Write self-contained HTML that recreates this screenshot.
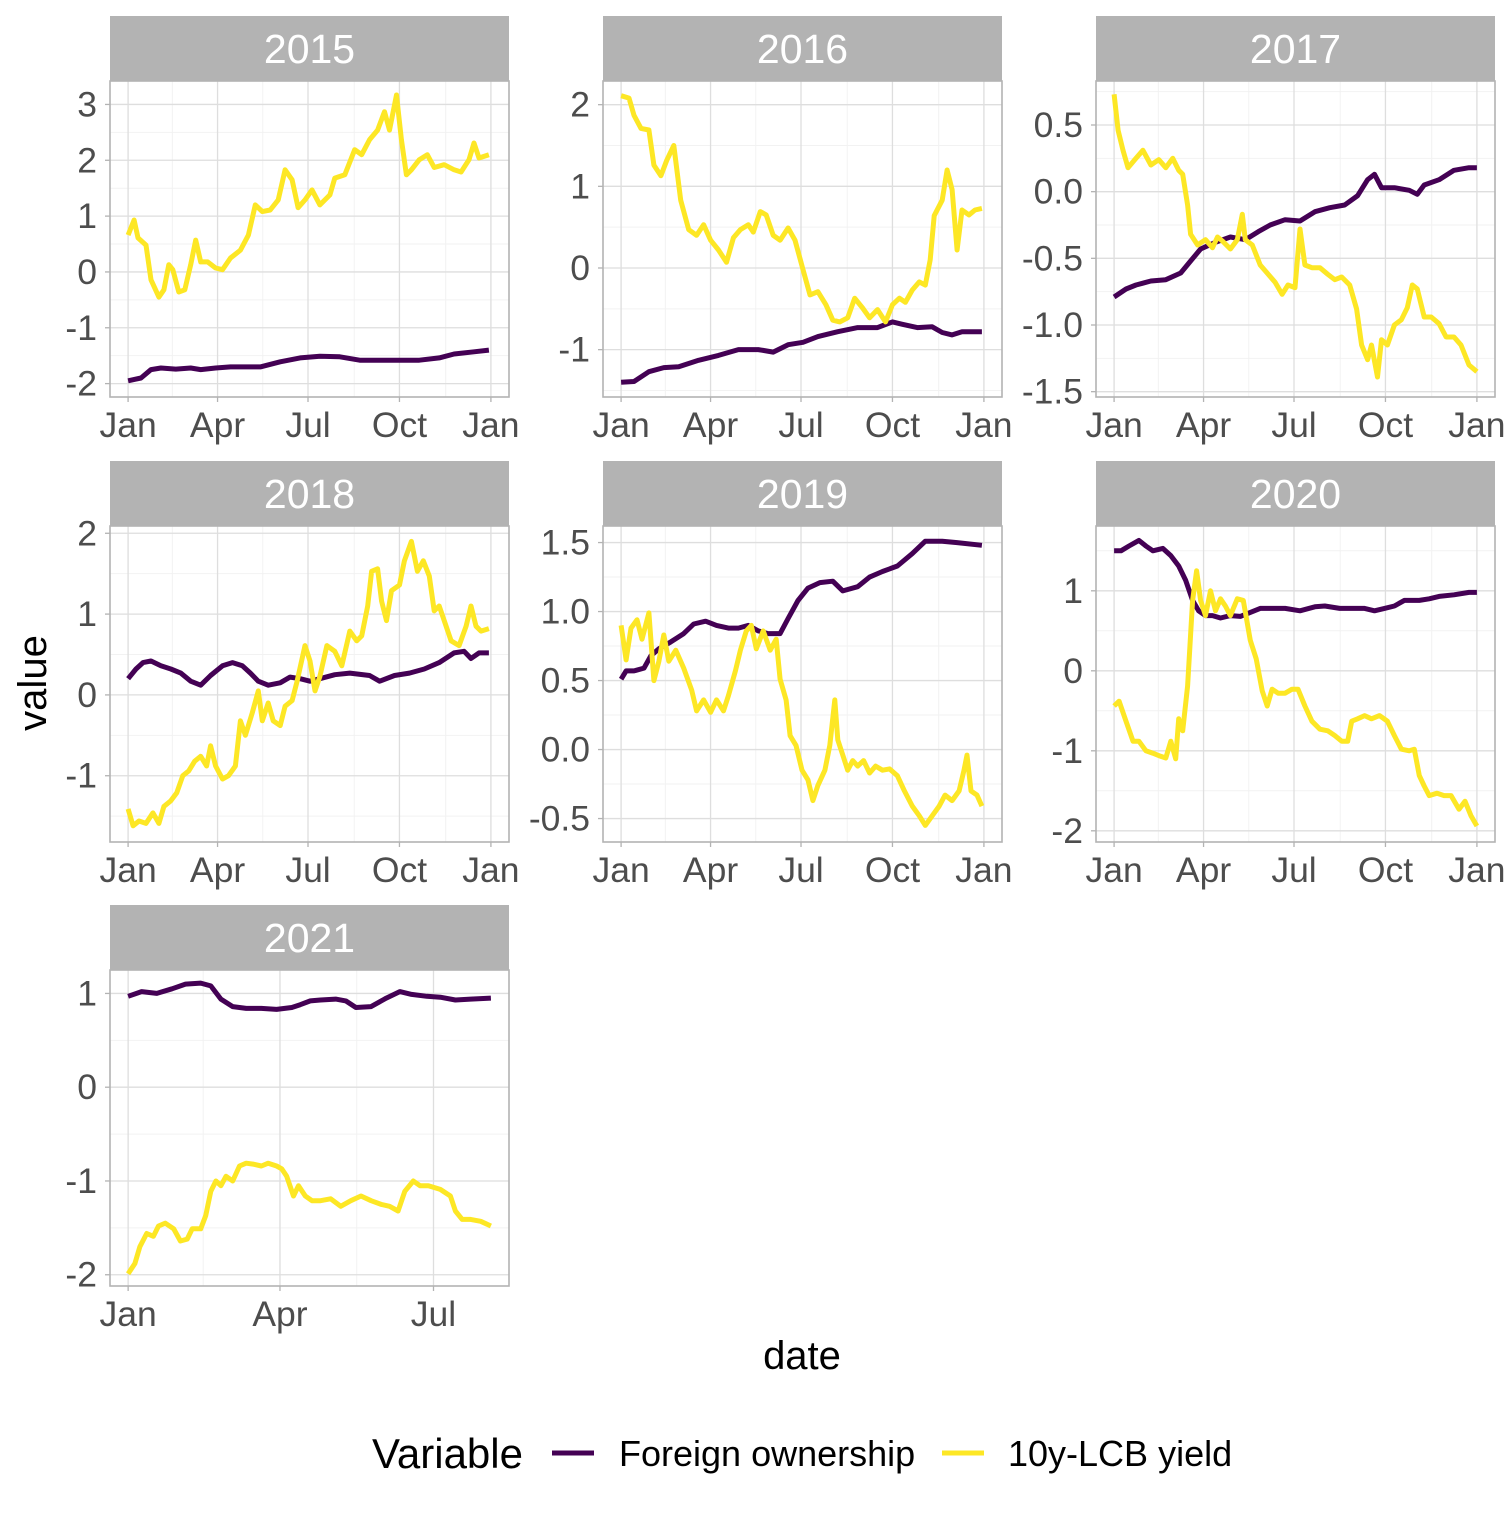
<!DOCTYPE html>
<html><head><meta charset="utf-8">
<style>
html,body{margin:0;padding:0;background:#fff;}
svg text{font-family:"Liberation Sans",sans-serif;}
</style></head>
<body>
<svg id="chart" width="1512" height="1512" viewBox="0 0 1512 1512" xmlns="http://www.w3.org/2000/svg">
<g id="panels"></g>
<text x="802" y="1369" font-size="40" text-anchor="middle" fill="#000">date</text>
<text transform="translate(46,683) rotate(-90)" font-size="40" text-anchor="middle" fill="#000">value</text>
<g>
<text x="372" y="1468" font-size="42" fill="#000">Variable</text>
<line x1="552" y1="1453" x2="594" y2="1453" stroke="#440154" stroke-width="5"/>
<text x="619" y="1466" font-size="36" fill="#000">Foreign ownership</text>
<line x1="942" y1="1453" x2="984" y2="1453" stroke="#FDE725" stroke-width="5"/>
<text x="1008" y="1466" font-size="36" fill="#000">10y-LCB yield</text>
</g>
</svg>
<script>
const fo2015_d=[0,13,23,33,48,63,73,88,103,133,153,173,193,213,233,263,293,313,328,348,363];
const fo2015_v=[-1.95,-1.9,-1.75,-1.72,-1.74,-1.72,-1.75,-1.72,-1.7,-1.7,-1.61,-1.54,-1.51,-1.52,-1.58,-1.58,-1.58,-1.54,-1.47,-1.43,-1.4];
const yl2015_d=[0,6,10,18,23,31,36,41,45,51,57,63,68,73,80,88,95,103,113,121,128,135,143,151,158,165,171,178,185,193,203,208,218,228,235,243,251,258,263,270,275,280,285,293,301,308,318,328,335,343,348,353,363];
const yl2015_v=[0.66,0.93,0.61,0.48,-0.14,-0.45,-0.32,0.13,0.04,-0.36,-0.32,0.13,0.57,0.18,0.18,0.07,0.04,0.25,0.39,0.66,1.2,1.08,1.11,1.29,1.83,1.65,1.15,1.29,1.47,1.2,1.38,1.68,1.74,2.19,2.1,2.37,2.54,2.87,2.54,3.17,2.37,1.74,1.83,2.01,2.1,1.87,1.92,1.83,1.79,2.01,2.31,2.04,2.1];

const fo2016_d=[0,13,28,43,58,78,98,118,138,153,168,183,198,218,238,258,273,283,298,313,323,333,343,363];
const fo2016_v=[-1.4,-1.39,-1.27,-1.22,-1.21,-1.13,-1.07,-1.0,-1.0,-1.03,-0.94,-0.91,-0.84,-0.78,-0.73,-0.73,-0.66,-0.69,-0.73,-0.72,-0.79,-0.82,-0.78,-0.78];
const yl2016_d=[0,8,13,20,28,33,40,46,53,60,68,76,83,90,98,106,113,120,128,133,140,146,153,160,168,175,183,190,198,206,213,220,228,235,243,250,258,266,273,280,286,293,300,306,311,315,323,328,333,338,343,350,356,363];
const yl2016_v=[2.11,2.08,1.87,1.71,1.69,1.26,1.13,1.32,1.5,0.83,0.47,0.4,0.53,0.34,0.22,0.07,0.37,0.47,0.53,0.44,0.69,0.65,0.4,0.34,0.49,0.34,-0.02,-0.33,-0.29,-0.45,-0.64,-0.66,-0.61,-0.37,-0.49,-0.61,-0.51,-0.66,-0.45,-0.37,-0.42,-0.27,-0.17,-0.21,0.1,0.64,0.83,1.2,0.96,0.22,0.71,0.65,0.71,0.73];

const fo2017_d=[0,12,22,37,52,67,77,87,102,117,132,145,157,172,187,202,217,232,245,255,262,269,282,297,305,312,327,342,357,365];
const fo2017_v=[-0.79,-0.73,-0.7,-0.67,-0.66,-0.61,-0.52,-0.43,-0.38,-0.34,-0.36,-0.3,-0.25,-0.21,-0.22,-0.15,-0.12,-0.1,-0.03,0.09,0.13,0.03,0.03,0.01,-0.02,0.05,0.09,0.16,0.18,0.18];
const yl2017_d=[0,4,9,14,22,29,37,45,52,59,65,69,74,77,84,92,99,104,109,117,124,129,132,139,147,155,162,169,175,182,187,192,199,207,215,222,229,237,244,249,255,259,265,269,275,282,289,295,300,305,312,319,327,334,342,349,357,365];
const yl2017_v=[0.73,0.46,0.31,0.18,0.25,0.31,0.2,0.24,0.18,0.25,0.16,0.13,-0.1,-0.32,-0.4,-0.36,-0.42,-0.34,-0.37,-0.43,-0.36,-0.17,-0.36,-0.4,-0.55,-0.62,-0.68,-0.77,-0.7,-0.72,-0.28,-0.55,-0.57,-0.57,-0.62,-0.66,-0.64,-0.7,-0.88,-1.15,-1.26,-1.15,-1.39,-1.11,-1.15,-1.0,-0.96,-0.87,-0.7,-0.73,-0.94,-0.94,-0.99,-1.09,-1.09,-1.15,-1.3,-1.35];

const fo2018_d=[0,8,15,23,33,43,53,63,73,83,95,105,115,123,131,141,153,163,173,183,193,208,223,243,253,268,283,298,313,328,338,345,353,363];
const fo2018_v=[0.2,0.32,0.4,0.42,0.36,0.32,0.27,0.17,0.12,0.24,0.36,0.4,0.36,0.27,0.17,0.12,0.15,0.22,0.2,0.17,0.2,0.25,0.27,0.24,0.17,0.24,0.27,0.32,0.4,0.52,0.54,0.45,0.52,0.52];
const yl2018_d=[0,5,11,18,25,31,36,43,49,55,61,67,73,79,83,88,95,101,108,113,118,125,131,135,141,146,153,158,165,170,178,183,188,193,200,208,215,223,230,235,241,245,251,255,260,265,273,278,285,291,297,303,308,313,318,325,333,340,345,350,355,363];
const yl2018_v=[-1.41,-1.62,-1.56,-1.59,-1.46,-1.59,-1.38,-1.31,-1.21,-1.0,-0.94,-0.82,-0.76,-0.88,-0.63,-0.88,-1.04,-1.0,-0.88,-0.32,-0.5,-0.22,0.05,-0.32,-0.1,-0.32,-0.38,-0.14,-0.07,0.17,0.61,0.42,0.05,0.23,0.61,0.54,0.36,0.79,0.67,0.73,1.1,1.53,1.56,1.16,0.92,1.29,1.36,1.66,1.9,1.53,1.66,1.47,1.04,1.1,0.92,0.67,0.61,0.85,1.1,0.85,0.79,0.82];

const fo2019_d=[0,5,13,23,30,38,50,63,73,85,96,108,118,128,138,148,160,168,178,188,200,213,223,238,250,263,278,293,306,323,338,363];
const fo2019_v=[0.51,0.57,0.57,0.59,0.68,0.73,0.78,0.84,0.91,0.93,0.9,0.88,0.88,0.9,0.86,0.84,0.84,0.95,1.08,1.17,1.21,1.22,1.15,1.18,1.25,1.29,1.33,1.42,1.51,1.51,1.5,1.48];
const yl2019_d=[0,5,10,16,21,28,33,38,43,48,55,63,71,76,83,90,96,103,108,115,120,126,131,136,143,150,156,160,166,170,176,182,188,193,198,205,210,215,218,223,228,233,238,244,250,256,263,270,278,285,293,300,306,313,320,326,333,340,345,348,352,358,363];
const yl2019_v=[0.9,0.65,0.88,0.94,0.8,0.99,0.5,0.64,0.83,0.64,0.72,0.59,0.43,0.28,0.36,0.27,0.36,0.28,0.39,0.57,0.72,0.86,0.9,0.73,0.86,0.72,0.8,0.51,0.36,0.1,0.03,-0.15,-0.22,-0.37,-0.26,-0.15,0.03,0.36,0.07,-0.04,-0.15,-0.08,-0.12,-0.08,-0.17,-0.12,-0.15,-0.14,-0.19,-0.3,-0.41,-0.48,-0.55,-0.48,-0.41,-0.33,-0.37,-0.3,-0.15,-0.04,-0.3,-0.33,-0.41];

const fo2020_d=[0,7,15,25,32,39,49,57,65,72,79,85,92,99,107,117,127,137,147,157,172,187,202,212,227,242,252,262,272,282,292,307,317,327,342,357,365];
const fo2020_v=[1.5,1.5,1.56,1.63,1.56,1.5,1.53,1.44,1.31,1.13,0.88,0.75,0.69,0.69,0.66,0.69,0.68,0.73,0.78,0.78,0.78,0.75,0.8,0.81,0.78,0.78,0.78,0.75,0.78,0.81,0.88,0.88,0.9,0.93,0.95,0.98,0.98];
const yl2020_d=[0,5,12,19,25,32,39,45,52,57,62,65,69,74,79,83,87,92,97,102,107,112,117,124,130,137,143,149,154,159,165,172,179,185,192,199,207,215,222,229,235,239,245,252,259,267,275,282,289,297,302,307,312,317,325,332,339,347,353,359,365];
const yl2020_v=[-0.44,-0.38,-0.63,-0.88,-0.88,-1.0,-1.03,-1.06,-1.09,-0.88,-1.1,-0.6,-0.75,-0.19,0.88,1.25,0.88,0.69,1.0,0.75,0.9,0.81,0.69,0.9,0.88,0.38,0.15,-0.25,-0.44,-0.23,-0.28,-0.28,-0.23,-0.23,-0.44,-0.63,-0.73,-0.75,-0.81,-0.88,-0.88,-0.63,-0.6,-0.56,-0.6,-0.56,-0.63,-0.81,-0.98,-1.0,-0.98,-1.31,-1.44,-1.56,-1.53,-1.56,-1.56,-1.73,-1.63,-1.81,-1.94];

const fo2021_d=[0,8,17,26,34,43,49,55,62,70,79,88,97,102,108,114,123,129,135,144,153,161,168,177,185,194,203,215];
const fo2021_v=[0.97,1.02,1.0,1.05,1.1,1.11,1.08,0.94,0.86,0.84,0.84,0.83,0.85,0.88,0.92,0.93,0.94,0.92,0.85,0.86,0.95,1.02,0.99,0.97,0.96,0.93,0.94,0.95];
const yl2021_d=[0,4,7,11,15,18,22,27,31,35,38,43,46,49,52,55,58,62,66,70,74,79,83,88,91,94,98,101,105,109,114,120,126,132,138,144,150,155,160,164,169,173,178,185,191,194,198,203,209,215];
const yl2021_v=[-1.99,-1.88,-1.7,-1.56,-1.59,-1.48,-1.45,-1.51,-1.64,-1.62,-1.51,-1.51,-1.37,-1.11,-1.0,-1.05,-0.95,-1.0,-0.84,-0.81,-0.82,-0.84,-0.81,-0.84,-0.87,-0.95,-1.16,-1.05,-1.16,-1.21,-1.21,-1.19,-1.27,-1.21,-1.16,-1.21,-1.25,-1.27,-1.32,-1.11,-1.0,-1.05,-1.05,-1.09,-1.16,-1.32,-1.41,-1.41,-1.43,-1.48];

const years=["2015","2016","2017","2018","2019","2020","2021"];
const yTicks2015=[-2,-1,0,1,2,3];
const yTicks2016=[-1,0,1,2];
const yTicks2017=[-1.5,-1.0,-0.5,0.0,0.5];
const yTicks2018=[-1,0,1,2];
const yTicks2019=[-0.5,0.0,0.5,1.0,1.5];
const yTicks2020=[-2,-1,0,1];
const yTicks2021=[-2,-1,0,1];
const xTickDays=[0,90,181,273,365];
const xTickLabels=["Jan","Apr","Jul","Oct","Jan"];
const xTickDays2021=[0,90,181];
const xTickLabels2021=["Jan","Apr","Jul"];

const panels=[
 {yr:"2015",c:0,r:0,yd:[-2.24,3.42],yt:yTicks2015,dec:0,fo:[fo2015_d,fo2015_v],yl:[yl2015_d,yl2015_v],xd:[-18.2,383.2],xt:xTickDays,xl:xTickLabels},
 {yr:"2016",c:1,r:0,yd:[-1.58,2.29],yt:yTicks2016,dec:0,fo:[fo2016_d,fo2016_v],yl:[yl2016_d,yl2016_v],xd:[-18.2,383.2],xt:xTickDays,xl:xTickLabels},
 {yr:"2017",c:2,r:0,yd:[-1.54,0.83],yt:yTicks2017,dec:1,fo:[fo2017_d,fo2017_v],yl:[yl2017_d,yl2017_v],xd:[-18.2,383.2],xt:xTickDays,xl:xTickLabels},
 {yr:"2018",c:0,r:1,yd:[-1.82,2.09],yt:yTicks2018,dec:0,fo:[fo2018_d,fo2018_v],yl:[yl2018_d,yl2018_v],xd:[-18.2,383.2],xt:xTickDays,xl:xTickLabels},
 {yr:"2019",c:1,r:1,yd:[-0.67,1.62],yt:yTicks2019,dec:1,fo:[fo2019_d,fo2019_v],yl:[yl2019_d,yl2019_v],xd:[-18.2,383.2],xt:xTickDays,xl:xTickLabels},
 {yr:"2020",c:2,r:1,yd:[-2.14,1.81],yt:yTicks2020,dec:0,fo:[fo2020_d,fo2020_v],yl:[yl2020_d,yl2020_v],xd:[-18.2,383.2],xt:xTickDays,xl:xTickLabels},
 {yr:"2021",c:0,r:2,yd:[-2.12,1.25],yt:yTicks2021,dec:0,fo:[fo2021_d,fo2021_v],yl:[yl2021_d,yl2021_v],xd:[-10.75,225.75],xt:xTickDays2021,xl:xTickLabels2021}
];
const colX=[110,603,1096], rowY=[16,461,905], W=399, SH=65, PH=316;
const NS="http://www.w3.org/2000/svg";
const root=document.getElementById("panels");
function mk(tag,attrs,parent){const e=document.createElementNS(NS,tag);for(const k in attrs)e.setAttribute(k,attrs[k]);parent.appendChild(e);return e;}
function fmt(v,d){let s=v.toFixed(d);if(v<0)s="-"+Math.abs(v).toFixed(d);return s;}

panels.forEach(p=>{
  const x0=colX[p.c], s0=rowY[p.r], y0=s0+SH, y1=y0+PH;
  const g=mk("g",{},root);
  
  
  const sx=d=>x0+(d-p.xd[0])/(p.xd[1]-p.xd[0])*W;
  const sy=v=>y1-(v-p.yd[0])/(p.yd[1]-p.yd[0])*PH;
  const st=mk("rect",{x:x0,y:s0,width:W,height:SH,fill:"#b3b3b3"},g);
  
  
  const stt=mk("text",{x:x0+W/2,y:s0+47,"font-size":41,"text-anchor":"middle",fill:"#fff"},g);
  stt.textContent=p.yr;
  
  
  const cp=mk("clipPath",{id:"clip"+p.yr},g); mk("rect",{x:x0,y:y0,width:W,height:PH},cp);
  const grid=mk("g",{},g);
  
  
  for(let i=0;i<p.yt.length+1;i++){
    const step=p.yt[1]-p.yt[0];
    const v=p.yt[0]-step/2+i*step;
    if(v>p.yd[0]&&v<p.yd[1]) mk("line",{x1:x0,x2:x0+W,y1:sy(v),y2:sy(v),stroke:"#f2f2f2","stroke-width":1},grid);
  }
  for(let i=0;i<p.xt.length+1;i++){
    const v=i<p.xt.length?p.xt[i]-45.5:p.xt[i-1]+45.5;
    if(v>p.xd[0]&&v<p.xd[1]) mk("line",{y1:y0,y2:y1,x1:sx(v),x2:sx(v),stroke:"#f2f2f2","stroke-width":1},grid);
  }
  p.yt.forEach(v=>{
    mk("line",{x1:x0,x2:x0+W,y1:sy(v),y2:sy(v),stroke:"#dedede","stroke-width":1.3},grid);
    mk("line",{x1:x0-5,x2:x0,y1:sy(v),y2:sy(v),stroke:"#b3b3b3","stroke-width":1.3},g);
    const t=mk("text",{x:x0-13,y:sy(v)+12,"font-size":35.5,"text-anchor":"end",fill:"#4d4d4d"},g);
    t.textContent=fmt(v,p.dec);
    
    
  });
  p.xt.forEach((d,i)=>{
    mk("line",{y1:y0,y2:y1,x1:sx(d),x2:sx(d),stroke:"#dedede","stroke-width":1.3},grid);
    mk("line",{y1:y1,y2:y1+5,x1:sx(d),x2:sx(d),stroke:"#b3b3b3","stroke-width":1.3},g);
    const t=mk("text",{x:sx(d),y:y1+40,"font-size":35.5,"text-anchor":"middle",fill:"#4d4d4d"},g);
    t.textContent=p.xl[i];
    
    
  });
  const lines=mk("g",{"clip-path":"url(#clip"+p.yr+")"},g);
  [["foreign-ownership",p.fo,"#440154"],["10y-lcb-yield",p.yl,"#FDE725"]].forEach(([nm,ser,col])=>{
    const pts=ser[0].map((d,i)=>sx(d).toFixed(1)+","+sy(ser[1][i]).toFixed(1)).join(" ");
    const pl=mk("polyline",{points:pts,fill:"none",stroke:col,"stroke-width":5,"stroke-linejoin":"round","stroke-linecap":"butt"},lines);
    
    
  });
  const bd=mk("rect",{x:x0,y:y0,width:W,height:PH,fill:"none",stroke:"#b3b3b3","stroke-width":1.6},g);
  
  
});
</script>
</body></html>
